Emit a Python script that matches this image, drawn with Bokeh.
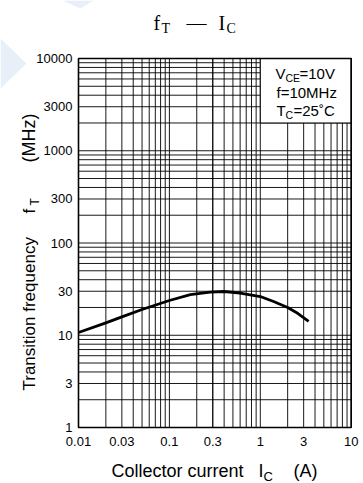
import math
from bokeh.plotting import figure
from bokeh.models import Label, PolyAnnotation
from bokeh.core.properties import value
from bokeh.embed import file_html
from bokeh.resources import INLINE

# ---- data ----
ic_a = [0.01, 0.02, 0.03, 0.05, 0.1, 0.17, 0.28, 0.4, 0.6, 1.0, 1.4, 2.0, 2.6, 3.4]
ft_mhz = [10.7, 13.6, 15.8, 19.0, 23.8, 27.5, 29.4, 29.8, 28.7, 26.3, 23.2, 20.0, 17.2, 14.1]

x_ticks = [0.01, 0.03, 0.1, 0.3, 1, 3, 10]
x_tick_labels = ["0.01", "0.03", "0.1", "0.3", "1", "3", "10"]
y_ticks = [1, 3, 10, 30, 100, 300, 1000, 3000, 10000]
y_tick_labels = ["1", "3", "10", "30", "100", "300", "1000", "3000", "10000"]

# grid positions (log grid: 1..9 x decade)
x_grid = sorted(set([k * 10 ** e for e in range(-2, 1) for k in range(1, 10)] + x_ticks))
y_grid = sorted(set([k * 10 ** e for e in range(0, 4) for k in range(1, 10)] + y_ticks))

# condition box extent (data units)
box_x = (1, 10)
box_y = (2000, 10000)

SANS = "Liberation Sans"
SERIF = "Liberation Serif"

# ---- layout: canvas and plot-area pixel box ----
W, H = 363, 483
PX_L, PX_R, PX_T, PX_B = 78, 350.7, 58, 427

lx0, lx1 = math.log10(x_ticks[0]), math.log10(x_ticks[-1])
ly0, ly1 = math.log10(y_ticks[0]), math.log10(y_ticks[-1])
dpx = (PX_R - PX_L) / (lx1 - lx0)
dpy = (PX_B - PX_T) / (ly1 - ly0)
x_range = (10 ** (lx0 - PX_L / dpx), 10 ** (lx1 + (W - PX_R) / dpx))
y_range = (10 ** (ly0 - (H - PX_B) / dpy), 10 ** (ly1 + PX_T / dpy))

p = figure(width=W, height=H, x_axis_type="log", y_axis_type="log",
           x_range=x_range, y_range=y_range,
           x_axis_location=None, y_axis_location=None,
           output_backend="svg", toolbar_location=None, min_border=0)
p.grid.visible = False
p.outline_line_color = None
p.background_fill_color = "white"
p.border_fill_color = "white"

# faint watermark shapes (top-left)
for xs, ys in (([0, 26, 0], [38, 63, 88]), ([62, 93, 80], [0, 0, 8])):
    p.add_layout(PolyAnnotation(xs=xs, ys=[H - v for v in ys], xs_units="screen", ys_units="screen",
                                fill_color="#e9eff9", fill_alpha=1.0, line_color=None, level="underlay"))

# grid lines
n = len(x_grid)
p.segment(x0=x_grid, y0=[y_ticks[0]] * n, x1=x_grid, y1=[y_ticks[-1]] * n,
          line_color="black", line_width=1, line_alpha=0.9)
m = len(y_grid)
p.segment(x0=[x_ticks[0]] * m, y0=y_grid, x1=[x_ticks[-1]] * m, y1=y_grid,
          line_color="black", line_width=1, line_alpha=0.9)

# condition box
p.quad(left=[box_x[0]], right=[box_x[1]], bottom=[box_y[0]], top=[box_y[1]],
       fill_color="white", line_color="black", line_width=1)

# plot-area outline
p.quad(left=[x_ticks[0]], right=[x_ticks[-1]], bottom=[y_ticks[0]], top=[y_ticks[-1]],
       fill_color=None, line_color="black", line_width=1.6)

# curve
p.line(ic_a, ft_mhz, line_color="black", line_width=2.8)

# tick labels
p.text(x=x_ticks, y=[y_ticks[0]] * len(x_ticks), text=x_tick_labels,
       text_align="center", text_baseline="top", y_offset=9,
       text_font=value(SANS), text_font_size=value("13px"), text_color="black")
p.text(x=[x_ticks[0]] * len(y_ticks), y=y_ticks, text=y_tick_labels,
       text_align="right", text_baseline="middle", x_offset=-6,
       text_font=value(SANS), text_font_size=value("13px"), text_color="black")

SHIFT = 0.35  # em; compensates the label box offset below the baseline


def lab(text, px, py, size, font=SANS, rotated=False):
    if rotated:
        sx, sy, ang = px - SHIFT * size, H - py, math.pi / 2
    else:
        sx, sy, ang = px, H - (py - SHIFT * size), 0.0
    p.add_layout(Label(x=sx, y=sy, x_units="screen", y_units="screen",
                       text=text, text_font=font, text_font_size=f"{size}px",
                       text_color="black", text_align="left",
                       text_baseline="alphabetic", angle=ang))


# title  f_T — I_C
lab("f", 153, 29, 20, SERIF)
lab("T", 161, 33, 14, SERIF)
lab("\u2014", 186, 29, 20, SERIF)
lab("I", 218, 29, 20, SERIF)
lab("C", 226, 33, 14, SERIF)

# condition text
lab("V", 275, 78, 15)
lab("CE", 285, 81, 10.5)
lab("=10V", 299, 78, 15)
lab("f=10MHz", 276, 97, 15)
lab("T", 276, 115, 15)
lab("C", 285, 118, 10.5)
lab("=25\u02daC", 293, 115, 15)

# x axis label
lab("Collector current", 111, 477, 18)
lab("I", 258, 477, 18)
lab("C", 263, 481, 13)
lab("(A)", 293, 477, 18)

# y axis label (rotated)
lab("Transition frequency", 35, 390, 17, rotated=True)
lab("f", 35, 213, 17, rotated=True)
lab("T", 39, 205, 12, rotated=True)
lab("(MHz)", 35, 162, 18, rotated=True)

out = file_html(p, INLINE)
open("out.html", "w").write(out)
